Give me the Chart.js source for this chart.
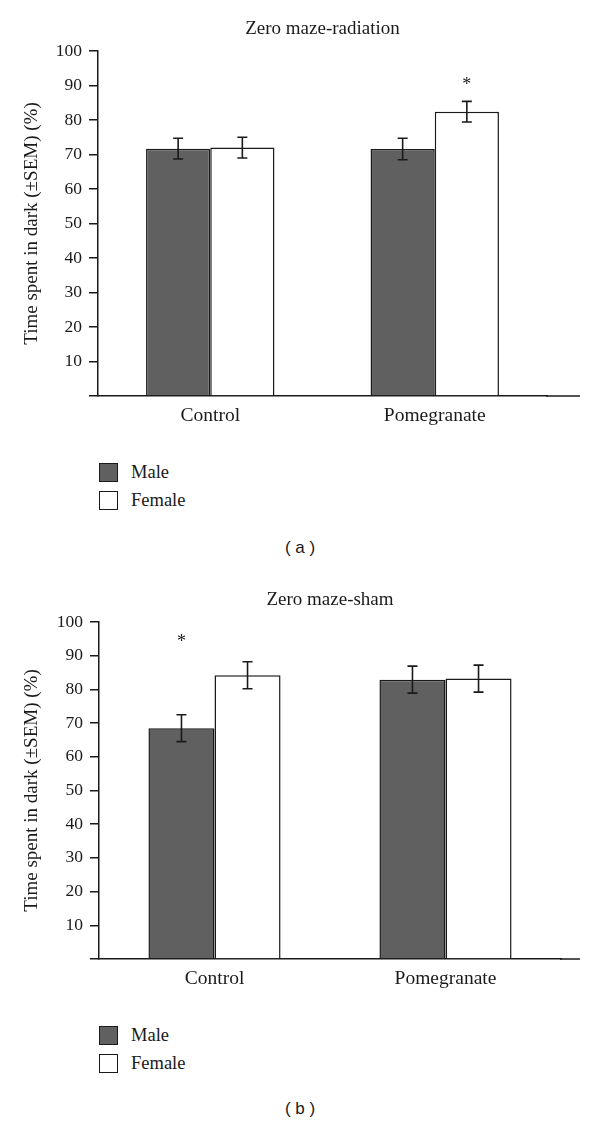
<!DOCTYPE html>
<html>
<head>
<meta charset="utf-8">
<script src="https://cdn.jsdelivr.net/npm/chart.js@4/dist/chart.umd.min.js"></script>
<style>
  html, body { margin:0; padding:0; background:#fff; }
  body { width:600px; height:1127px; position:relative; overflow:hidden; font-family:"Liberation Serif", serif; color:#1a1a1a; }
  .wrap { position:absolute; left:0; width:600px; height:440px; }
  .legend { position:absolute; left:99px; font-size:18.5px; }
  .legend div { height:28px; display:flex; align-items:center; }
  .legend span.sw { display:inline-block; width:17px; height:17px; border:1.5px solid #1a1a1a; margin-right:13px; }
  .cap { position:absolute; left:0; width:600px; text-align:center; font-family:"Liberation Sans", sans-serif; font-size:17px; }
</style>
</head>
<body>
<div class="wrap" style="top:0"><canvas id="chartA" width="600" height="440"></canvas></div>
<div class="legend" id="legendA" style="top:458px"></div>
<div class="cap" style="top:538px">( a )</div>
<div class="wrap" style="top:572px"><canvas id="chartB" width="600" height="440"></canvas></div>
<div class="legend" id="legendB" style="top:1021px"></div>
<div class="cap" style="top:1099px">( b )</div>
<script>
// data
const groups = ['Control', 'Pomegranate'];
const seriesNames = ['Male', 'Female'];
const seriesColors = ['#606060', '#ffffff'];
const yTitle = 'Time spent in dark (\u00B1SEM) (%)';

const radiationTitle = 'Zero maze-radiation';
const radiationMale = [71.7, 71.6];
const radiationFemale = [72.0, 82.4];
const radiationMaleSem = [3.0, 3.1];
const radiationFemaleSem = [3.0, 3.0];
const radiationMaleStar = [null, null];
const radiationFemaleStar = [null, 91];

const shamTitle = 'Zero maze-sham';
const shamMale = [68.5, 82.9];
const shamFemale = [84.2, 83.2];
const shamMaleSem = [4.0, 4.0];
const shamFemaleSem = [4.0, 4.0];
const shamMaleStar = [95, null];
const shamFemaleStar = [null, null];

const yTicks = [0, 10, 20, 30, 40, 50, 60, 70, 80, 90, 100];

const ink = '#1a1a1a';
const serif = '"Liberation Serif", serif';

// error bars, significance stars, longer baseline
const extrasPlugin = {
  id: 'extras',
  afterDatasetsDraw(chart, args, opts){
    const {ctx, chartArea} = chart;
    const y = chart.scales.y;
    ctx.save();
    // baseline runs past the last group
    ctx.strokeStyle = ink; ctx.lineWidth = 1.5;
    ctx.beginPath();
    ctx.moveTo(chartArea.right - 1, chartArea.bottom);
    ctx.lineTo(chartArea.right + opts.extend, chartArea.bottom);
    ctx.stroke();
    chart.data.datasets.forEach((ds, i) => {
      const meta = chart.getDatasetMeta(i);
      meta.data.forEach((bar, j) => {
        const v = ds.data[j], e = ds.sem[j];
        const t = y.getPixelForValue(v + e), b = y.getPixelForValue(v - e);
        ctx.strokeStyle = ink; ctx.lineWidth = 1.6;
        ctx.beginPath();
        ctx.moveTo(bar.x, t); ctx.lineTo(bar.x, b);
        ctx.moveTo(bar.x - 5, t); ctx.lineTo(bar.x + 5, t);
        ctx.moveTo(bar.x - 5, b); ctx.lineTo(bar.x + 5, b);
        ctx.stroke();
        if(ds.star[j] != null){
          ctx.fillStyle = ink;
          ctx.font = '18px ' + serif;
          ctx.textAlign = 'center'; ctx.textBaseline = 'middle';
          ctx.fillText('*', bar.x, y.getPixelForValue(ds.star[j]) + 3);
        }
      });
    });
    ctx.restore();
  }
};

function makeChart(id, title, male, female, maleSem, femaleSem, maleStar, femaleStar, box){
  const H = 440;
  return new Chart(document.getElementById(id), {
    type: 'bar',
    plugins: [extrasPlugin],
    data: {
      labels: groups,
      datasets: [
        { label: seriesNames[0], data: male, sem: maleSem, star: maleStar, backgroundColor: seriesColors[0], borderColor: ink, borderWidth: 1.5 },
        { label: seriesNames[1], data: female, sem: femaleSem, star: femaleStar, backgroundColor: seriesColors[1], borderColor: ink, borderWidth: 1.5 }
      ]
    },
    options: {
      responsive: false,
      animation: false,
      layout: { padding: { left: 0, right: 600 - box.right, top: 0, bottom: 0 } },
      datasets: { bar: { barPercentage: 1, categoryPercentage: 0.572 } },
      plugins: {
        legend: { display: false },
        tooltip: { enabled: false },
        title: { display: true, text: title, fullSize: false, color: ink,
                 font: { family: serif, size: 19, weight: 'normal', lineHeight: 1.2 },
                 padding: { top: box.top - 33.8, bottom: 11 } },
        extras: { extend: box.extend }
      },
      scales: {
        x: {
          grid: { display: false, drawTicks: false },
          border: { display: true, color: ink, width: 1.5 },
          ticks: { color: ink, padding: 8, font: { family: serif, size: 19.5 } },
          afterFit(s){ s.height = H - box.bottom; }
        },
        y: {
          min: 0, max: 100,
          afterBuildTicks(s){ s.ticks = yTicks.map(v => ({ value: v })); },
          grid: { drawOnChartArea: false, drawTicks: true, tickLength: 9, color: ink, lineWidth: 1.5 },
          border: { display: true, color: ink, width: 1.5 },
          ticks: { color: ink, padding: 7, font: { family: serif, size: 17.5 },
                   callback: v => v === 0 ? '' : v },
          title: { display: true, text: yTitle, color: ink, padding: { top: 21, bottom: 0 },
                   font: { family: serif, size: 19, lineHeight: 1.2 } },
          afterFit(s){ s.width = box.left; }
        }
      }
    }
  });
}

function makeLegend(id){
  const el = document.getElementById(id);
  seriesNames.forEach((n, i) => {
    const row = document.createElement('div');
    row.innerHTML = `<span class="sw" style="background:${seriesColors[i]}"></span>${n}`;
    el.appendChild(row);
  });
}

makeChart('chartA', radiationTitle, radiationMale, radiationFemale, radiationMaleSem, radiationFemaleSem,
  radiationMaleStar, radiationFemaleStar, { left: 98, right: 547, top: 51, bottom: 396, extend: 33 });
makeChart('chartB', shamTitle, shamMale, shamFemale, shamMaleSem, shamFemaleSem,
  shamMaleStar, shamFemaleStar, { left: 99, right: 561, top: 50, bottom: 387, extend: 19 });
makeLegend('legendA');
makeLegend('legendB');
</script>
</body>
</html>
